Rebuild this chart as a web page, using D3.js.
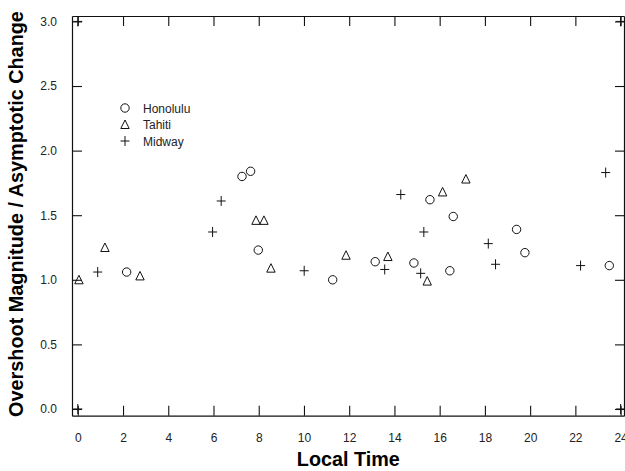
<!DOCTYPE html>
<html><head><meta charset="utf-8">
<script src="https://cdn.jsdelivr.net/npm/d3@7"></script>
<style>body{margin:0;background:#fff}svg{display:block}</style>
</head><body>
<svg id="c" width="625" height="471"></svg>
<script>
// ---- data ----
const honolulu = [[2.16,1.06],[7.26,1.80],[7.64,1.84],[7.98,1.23],[11.27,1.00],[13.15,1.14],[14.86,1.13],[15.57,1.62],[16.45,1.07],[16.6,1.49],[19.4,1.39],[19.77,1.21],[23.5,1.11]];
const tahiti = [[0.05,1.00],[1.2,1.25],[2.75,1.03],[7.88,1.46],[8.23,1.46],[8.54,1.09],[11.86,1.19],[13.71,1.18],[15.45,0.99],[16.13,1.68],[17.16,1.78]];
const midway = [[0.88,1.06],[5.96,1.37],[6.34,1.61],[10.01,1.07],[13.57,1.08],[14.28,1.66],[15.16,1.05],[15.3,1.37],[18.15,1.28],[18.47,1.12],[22.23,1.11],[23.34,1.83]];
const cornerMarks = [[0,3.0],[24,3.0],[0,0],[24,0]];
const xTicks = [0,2,4,6,8,10,12,14,16,18,20,22,24];
const yTicks = [0.0,0.5,1.0,1.5,2.0,2.5,3.0];
const seriesNames = ["Honolulu","Tahiti","Midway"];
const xTitle = "Local Time";
const yTitle = "Overshoot Magnitude / Asymptotic Change";

const svg = d3.select("#c");
const L=72, R=624, T=16, B=415.7;
const x = d3.scaleLinear().domain([-0.256,24.15]).range([L,R]);
const y = d3.scaleLinear().domain([-0.052,3.042]).range([B,T]);
const ink="#111";
const FF="Liberation Sans, Arial, sans-serif";

const g = svg.append("g");
g.append("g").attr("transform",`translate(0,${B})`)
  .call(d3.axisBottom(x).tickValues(xTicks).tickFormat(d3.format("d")).tickSize(-10).tickPadding(18).tickSizeOuter(0));
g.append("g").attr("transform",`translate(0,${T})`)
  .call(d3.axisTop(x).tickValues(xTicks).tickFormat("").tickSize(-10).tickSizeOuter(0));
g.append("g").attr("transform",`translate(${L},0)`)
  .call(d3.axisLeft(y).tickValues(yTicks).tickFormat(d3.format(".1f")).tickSize(-10).tickPadding(15).tickSizeOuter(0));
g.append("g").attr("transform",`translate(${R},0)`)
  .call(d3.axisRight(y).tickValues(yTicks).tickFormat("").tickSize(-9).tickSizeOuter(0));
g.selectAll(".domain").attr("stroke",ink).attr("stroke-width",1.2);
g.selectAll(".tick line").attr("stroke",ink).attr("stroke-width",1.1);
g.selectAll(".tick text").attr("fill","#222").attr("font-family",FF).attr("font-size",12);

// titles (font size fitted to the reference's measured text lengths)
function fitText(t, target){
  const len = t.node().getComputedTextLength();
  const fs = parseFloat(t.attr("font-size"));
  t.attr("font-size", fs*target/len);
}
const xt = svg.append("text").attr("x",348.3).attr("y",466).attr("text-anchor","middle")
  .attr("font-family",FF).attr("font-weight","bold").attr("font-size",19).attr("fill","#000").text(xTitle);
fitText(xt,103);
const yt = svg.append("text").attr("transform","translate(23,214) rotate(-90)").attr("text-anchor","middle")
  .attr("font-family",FF).attr("font-weight","bold").attr("font-size",20).attr("fill","#000").text(yTitle);
fitText(yt,406);

// markers
const circ = (sel,cx,cy)=>sel.append("circle").attr("cx",cx).attr("cy",cy).attr("r",4.2).attr("fill","none").attr("stroke",ink).attr("stroke-width",1);
const tri = (sel,cx,cy)=>sel.append("path").attr("d",`M${cx-4.2},${cy+4} L${cx},${cy-4.5} L${cx+4.2},${cy+4} Z`).attr("fill","none").attr("stroke",ink).attr("stroke-width",1);
const plus = (sel,cx,cy)=>sel.append("path").attr("d",`M${cx-4.5},${cy} H${cx+4.5} M${cx},${cy-5} V${cy+5}`).attr("fill","none").attr("stroke",ink).attr("stroke-width",1);

const pg = svg.append("g");
honolulu.forEach(d=>circ(pg,x(d[0]),y(d[1])));
tahiti.forEach(d=>tri(pg,x(d[0]),y(d[1])));
midway.forEach(d=>plus(pg,x(d[0]),y(d[1])));
cornerMarks.forEach(d=>plus(pg,x(d[0]),y(d[1])));

// legend
const lg = svg.append("g");
const shapes=[circ,tri,plus];
seriesNames.forEach((n,i)=>{
  const yy = 108 + i*16.5;
  shapes[i](lg,125,yy);
  lg.append("text").attr("x",143).attr("y",yy+4.5).attr("font-family",FF).attr("font-size",12).attr("fill","#222").text(n);
});
</script>
</body></html>
